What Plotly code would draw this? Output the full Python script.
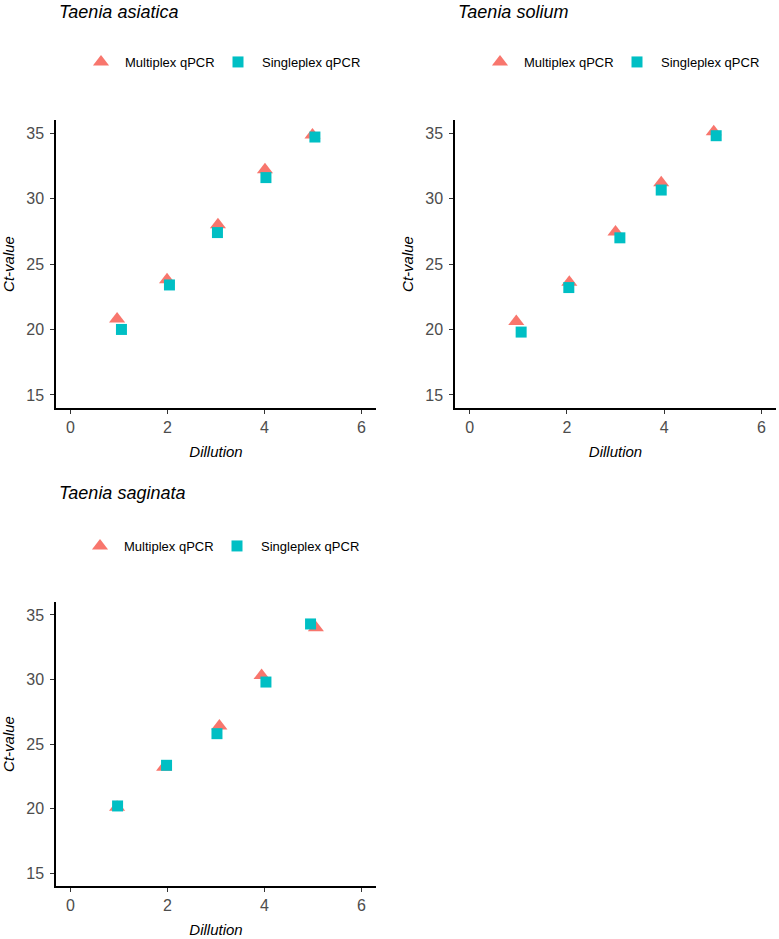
import plotly.graph_objects as go

FONT = "Liberation Sans, Arial, sans-serif"
MULTI_COLOR = "#F8766D"
SINGLE_COLOR = "#00BFC4"

panel_titles = ["Taenia asiatica", "Taenia solium", "Taenia saginata"]
series_names = ["Multiplex qPCR", "Singleplex qPCR"]

# Taenia asiatica
asiatica_multi_x = [0.96, 1.99, 3.04, 4.01, 4.99]
asiatica_multi_y = [20.8, 23.8, 28.0, 32.2, 34.85]
asiatica_single_x = [1.05, 2.04, 3.03, 4.03, 5.04]
asiatica_single_y = [20.0, 23.4, 27.4, 31.6, 34.7]

# Taenia solium
solium_multi_x = [0.96, 2.05, 3.0, 3.94, 5.02]
solium_multi_y = [20.6, 23.6, 27.45, 31.2, 35.1]
solium_single_x = [1.06, 2.04, 3.09, 3.94, 5.07]
solium_single_y = [19.8, 23.2, 27.0, 30.65, 34.8]

# Taenia saginata
saginata_multi_x = [0.96, 1.93, 3.07, 3.94, 5.06]
saginata_multi_y = [20.1, 23.2, 26.4, 30.3, 34.0]
saginata_single_x = [0.97, 1.98, 3.02, 4.03, 4.95]
saginata_single_y = [20.2, 23.35, 25.8, 29.8, 34.3]

x_ticks = [0, 2, 4, 6]
y_ticks = [15, 20, 25, 30, 35]

panels = [
    (asiatica_multi_x, asiatica_multi_y, asiatica_single_x, asiatica_single_y),
    (solium_multi_x, solium_multi_y, solium_single_x, solium_single_y),
    (saginata_multi_x, saginata_multi_y, saginata_single_x, saginata_single_y),
]

W, H = 779, 939
def px_x(p):
    return p / W
def px_y(p):
    return 1 - p / H

# plot-area pixel boxes (left, right, top, bottom)
boxes = [(56, 376, 120, 408), (455, 776, 120, 408), (56, 376, 602, 886)]
legend_pos = [(77, 62), (476, 62), (76, 546)]
legend_step = 137
title_pos = [(57, 12), (456, 12), (57, 493)]

def legend_key(n):
    return "legend" if n == 1 else "legend" + str(n)

fig = go.Figure()

for i, (mx, my, sx, sy) in enumerate(panels):
    suffix = "" if i == 0 else str(i + 1)
    fig.add_trace(go.Scatter(
        x=mx, y=my, mode="markers", name=series_names[0],
        marker=dict(symbol="triangle-up", size=14, color=MULTI_COLOR),
        xaxis="x" + suffix, yaxis="y" + suffix, legend=legend_key(2 * i + 1),
        showlegend=True))
    fig.add_trace(go.Scatter(
        x=sx, y=sy, mode="markers", name=series_names[1],
        marker=dict(symbol="square", size=11, color=SINGLE_COLOR),
        xaxis="x" + suffix, yaxis="y" + suffix, legend=legend_key(2 * i + 2),
        showlegend=True))

layout = dict(
    width=W, height=H,
    margin=dict(l=0, r=0, t=0, b=0, autoexpand=False),
    paper_bgcolor="white", plot_bgcolor="white",
    font=dict(family=FONT, color="#000000"),
    showlegend=True,
)

for i, (l, r, t, b) in enumerate(boxes):
    suffix = "" if i == 0 else str(i + 1)
    axis_common = dict(
        showline=True, linecolor="black", linewidth=1.5,
        ticks="outside", ticklen=4, tickcolor="#333333", tickwidth=1,
        showgrid=False, zeroline=False,
        tickfont=dict(family=FONT, size=16, color="#4D4D4D"),
    )
    layout["xaxis" + suffix] = dict(
        axis_common, domain=[px_x(l), px_x(r)], range=[-0.3, 6.3],
        tickvals=x_ticks, anchor="y" + suffix,
        title=dict(text="<i>Dillution</i>", font=dict(family=FONT, size=15, color="black"), standoff=12),
    )
    layout["yaxis" + suffix] = dict(
        axis_common, domain=[px_y(b), px_y(t)], range=[14, 36],
        tickvals=y_ticks, anchor="x" + suffix, ticklabelstandoff=3,
        title=dict(text="<i>Ct-value</i>", font=dict(family=FONT, size=15, color="black"), standoff=8),
    )
    lx, ly = legend_pos[i]
    for k in range(2):
        layout[legend_key(2 * i + k + 1)] = dict(
            orientation="h", x=px_x(lx + k * legend_step), y=px_y(ly),
            xanchor="left", yanchor="middle", visible=True,
            font=dict(family=FONT, size=13, color="black"),
            bgcolor="rgba(0,0,0,0)", itemclick=False, itemdoubleclick=False,
            itemwidth=38,
        )

annotations = []
for i, (tx, ty) in enumerate(title_pos):
    annotations.append(dict(
        text="<i>" + panel_titles[i] + "</i>", x=px_x(tx), y=px_y(ty),
        xref="paper", yref="paper", xanchor="left", yanchor="middle",
        showarrow=False, font=dict(family=FONT, size=18, color="black")))
layout["annotations"] = annotations

fig.update_layout(**layout)
fig.write_html("out.html", config={"displayModeBar": False},
               post_script="document.body.style.margin='0';")
